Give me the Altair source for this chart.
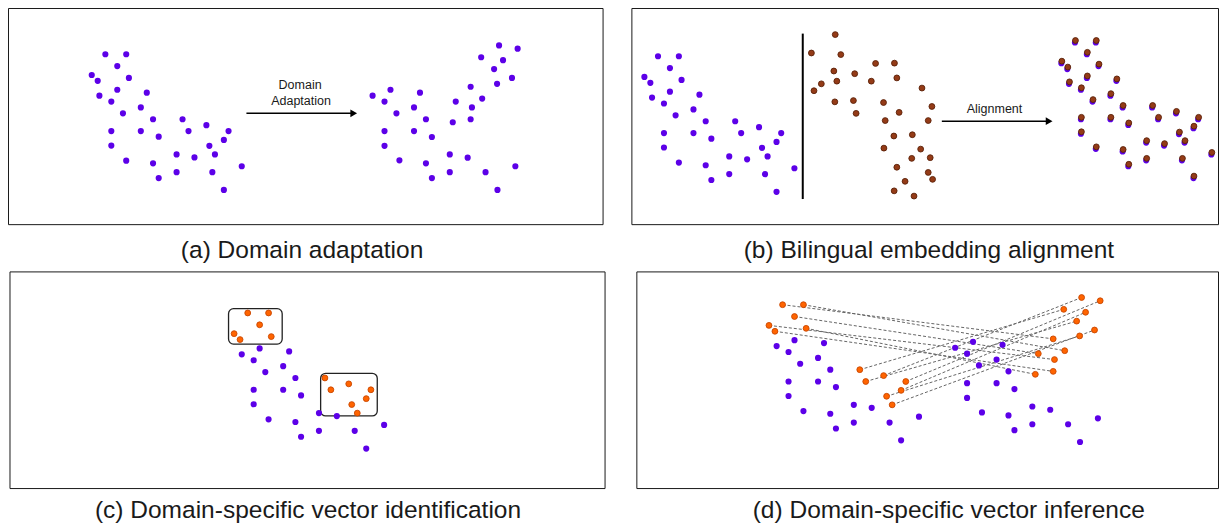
import altair as alt
import pandas as pd

# ---------------- data ----------------
# source-domain embedding cluster (panel a, left)
SRC_X = [106, 127, 118, 92.3, 98.3, 129.7, 118, 100, 112, 147.7, 141.7, 123.7, 154,
         183.7, 112, 141.7, 159.7, 189.7, 207.7, 230, 225.3, 210.7, 112, 177.7, 195.7,
         216.3, 127, 154, 243.3, 177.7, 213.7, 159.7, 225.3]
SRC_Y = [55, 55, 67, 76, 82, 79, 91, 97, 103, 94, 109, 115, 121,
         121, 133, 133, 138.7, 133, 127, 133, 142, 148, 147.7, 156.7, 159.7,
         156.7, 163, 165.7, 168.7, 174.7, 174.7, 180.7, 192.7]
# domain-adapted cluster (panel a, right), same point order as SRC
ADAPT_X = [473.7, 485.3, 458.7, 475, 473.7, 455.7, 393, 375, 387, 422.7, 416.7, 399, 428.7,
           484.3, 387, 416.7, 434.7, 497.3, 502.3, 521, 506.3, 500.3, 387, 452.7, 470.7,
           515.3, 402, 428.7, 518.7, 452.7, 488.7, 434.7, 500.7]
ADAPT_Y = [88, 100, 103, 109, 121, 124, 91, 97, 103, 94, 109, 115, 121,
           58, 133, 133, 139, 70, 46, 49.3, 61, 85, 148, 156.7, 160,
           79, 162.7, 165.7, 168.7, 174.7, 174.7, 180.7, 192.7]
# target-language embedding cluster (panel b, middle)
TGT_X = [840.7, 816.7, 846.3, 881.3, 900.3, 839.3, 860.3, 826.7, 842.3, 877, 902.7, 819.3,
         928, 840.3, 859, 889.3, 938, 861.7, 905, 891, 934.3, 899.7, 918.3, 889.7, 926.7,
         917.7, 936.3, 902.7, 934.3, 938.7, 911, 900, 920]
TGT_Y = [35, 53.7, 55.3, 64.3, 64, 72, 74.7, 85, 82.3, 82.3, 79, 92,
         89.3, 103.3, 102, 104, 108, 115, 114, 122.3, 122.3, 138, 136.7, 150.3, 151.3,
         160.7, 160, 169.7, 175, 182, 184, 193.7, 199]
# domain-specific points (highlighted orange), indices into SRC / ADAPT
ORANGE_IDX = [0, 1, 2, 3, 4, 5, 13, 17, 18, 19, 20, 21, 25]

# text
CAPTIONS = ["(a) Domain adaptation", "(b) Bilingual embedding alignment",
            "(c) Domain-specific vector identification", "(d) Domain-specific vector inference"]
ARROW_LABELS = [["Domain", "Adaptation"], ["Alignment"]]

# ---------------- layout ----------------
PANELS = [(8.5, 607, 8.5, 228), (636, 1226.5, 8.5, 228), (10, 609, 276, 496), (641, 1226.5, 276, 496)]
CAPTION_POS = [(304, 255), (935, 255), (310, 518.5), (955, 518.5)]
OFF_BL = (556.3, 2)
OFF_BR_P = (976.0, -12)
OFF_BR_B = (976.5, -14)
OFF_C = (143.3, 262.7)
OFF_DL = (681.7, 254.3)
OFF_DR = (586.4, 256)
BOXES = [(230, 284, 313.3, 349.3), (322.7, 379.7, 379, 422.3)]
ARROWS = [(248, 356, 115), (948, 1056, 123)]
LABEL_POS = [[(302, 86), (303, 102)], [(1001, 111)]]
VLINE = (808, 34, 202)

PURPLE = "#5c00e8"
ORANGE = "#ff6400"
ORANGE_S = "#c84600"
BROWN = "#943b17"
BROWN_S = "#5a2008"

xs = alt.Scale(domain=[8, 1228], nice=False, zero=False)
ys = alt.Scale(domain=[8, 532], nice=False, zero=False, reverse=True)


def X(f):
    return alt.X(f, type="quantitative", scale=xs, axis=None)


def Y(f):
    return alt.Y(f, type="quantitative", scale=ys, axis=None)


def pts(xl, yl, off, idx=None, exclude=None):
    rows = []
    for i, (x, y) in enumerate(zip(xl, yl)):
        if idx is not None and i not in idx:
            continue
        if exclude is not None and i in exclude:
            continue
        rows.append({"x": x + off[0], "y": y + off[1]})
    return rows


purple_rows = (pts(SRC_X, SRC_Y, (0, 0)) + pts(ADAPT_X, ADAPT_Y, (0, 0))
               + pts(SRC_X, SRC_Y, OFF_BL) + pts(SRC_X, SRC_Y, OFF_BR_P)
               + pts(SRC_X, SRC_Y, OFF_C, exclude=ORANGE_IDX)
               + pts(SRC_X, SRC_Y, OFF_DL, exclude=ORANGE_IDX)
               + pts(ADAPT_X, ADAPT_Y, OFF_DR, exclude=ORANGE_IDX))
brown_rows = pts(TGT_X, TGT_Y, (0, 0)) + pts(SRC_X, SRC_Y, OFF_BR_B)
orange_rows = (pts(SRC_X, SRC_Y, OFF_C, idx=ORANGE_IDX)
               + pts(SRC_X, SRC_Y, OFF_DL, idx=ORANGE_IDX)
               + pts(ADAPT_X, ADAPT_Y, OFF_DR, idx=ORANGE_IDX))

link_rows = []
for i in ORANGE_IDX:
    link_rows.append({"x": SRC_X[i] + OFF_DL[0], "y": SRC_Y[i] + OFF_DL[1],
                      "x2": ADAPT_X[i] + OFF_DR[0], "y2": ADAPT_Y[i] + OFF_DR[1]})

frame_df = pd.DataFrame([{"x": a, "x2": b, "y": c, "y2": d} for a, b, c, d in PANELS])
box_df = pd.DataFrame([{"x": a, "x2": b, "y": c, "y2": d} for a, b, c, d in BOXES])
arrow_df = pd.DataFrame([{"x": a, "x2": b, "y": y} for a, b, y in ARROWS])
head_df = pd.DataFrame([{"x": b, "y": y} for a, b, y in ARROWS])
vline_df = pd.DataFrame([{"x": VLINE[0], "y": VLINE[1], "y2": VLINE[2]}])
cap_df = pd.DataFrame([{"x": p[0], "y": p[1], "t": t} for p, t in zip(CAPTION_POS, CAPTIONS)])
lab_rows = []
for labs, poss in zip(ARROW_LABELS, LABEL_POS):
    for t, p in zip(labs, poss):
        lab_rows.append({"x": p[0], "y": p[1], "t": t})
lab_df = pd.DataFrame(lab_rows)

frames = alt.Chart(frame_df).mark_rect(fill="white", fillOpacity=0, stroke="#1a1a1a", strokeWidth=1).encode(
    x=X("x"), x2="x2", y=Y("y"), y2="y2")
boxes = alt.Chart(box_df).mark_rect(fillOpacity=0, stroke="#222", strokeWidth=1.3, cornerRadius=5).encode(
    x=X("x"), x2="x2", y=Y("y"), y2="y2")
links = alt.Chart(pd.DataFrame(link_rows)).mark_rule(color="#666", strokeWidth=1, strokeDash=[3, 2]).encode(
    x=X("x"), y=Y("y"), x2="x2", y2="y2")
vline = alt.Chart(vline_df).mark_rule(color="black", strokeWidth=2).encode(x=X("x"), y=Y("y"), y2="y2")
arrows = alt.Chart(arrow_df).mark_rule(color="black", strokeWidth=1.5).encode(x=X("x"), x2="x2", y=Y("y"))
heads = alt.Chart(head_df).mark_point(shape="triangle-right", filled=True, size=60, color="black", opacity=1).encode(
    x=X("x"), y=Y("y"))
purple = alt.Chart(pd.DataFrame(purple_rows)).mark_circle(size=38, color=PURPLE, opacity=1).encode(
    x=X("x"), y=Y("y"))
brown = alt.Chart(pd.DataFrame(brown_rows)).mark_circle(size=34, color=BROWN, opacity=1, stroke=BROWN_S,
                                                       strokeWidth=0.9).encode(x=X("x"), y=Y("y"))
orange = alt.Chart(pd.DataFrame(orange_rows)).mark_circle(size=34, color=ORANGE, opacity=1, stroke=ORANGE_S,
                                                         strokeWidth=0.9).encode(x=X("x"), y=Y("y"))
caps = alt.Chart(cap_df).mark_text(font="Liberation Sans", fontSize=24.5, color="#1a1a1a", baseline="middle",
                                   align="center").encode(x=X("x"), y=Y("y"), text="t:N")
labs = alt.Chart(lab_df).mark_text(font="Liberation Sans", fontSize=12.5, color="#1a1a1a", baseline="middle",
                                   align="center").encode(x=X("x"), y=Y("y"), text="t:N")

chart = alt.layer(frames, boxes, links, vline, arrows, heads, purple, brown, orange, caps, labs).properties(
    width=1212, height=516, padding=0, autosize=alt.AutoSizeParams(type="none")
).configure_view(stroke=None)

chart.save("out.html", embed_options={"renderer": "svg", "actions": False})
